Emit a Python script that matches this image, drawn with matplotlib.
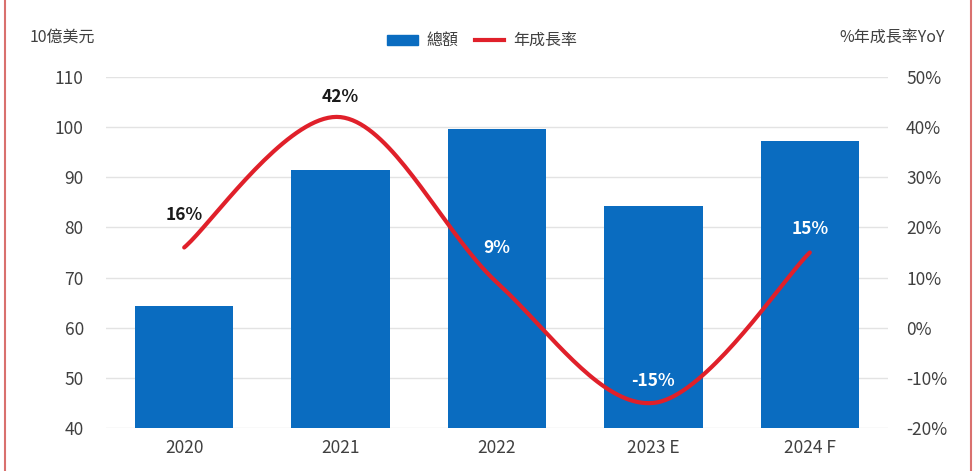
import numpy as np
import matplotlib
matplotlib.use('Agg')
from matplotlib import pyplot as plt
from matplotlib.patches import Rectangle

plt.rcParams['font.family'] = ['Noto Sans CJK TC', 'DejaVu Sans']

years = ['2020', '2021', '2022', '2023 E', '2024 F']
total = [64.3, 91.4, 99.6, 84.3, 97.2]      # 10億美元
yoy = [16, 42, 9, -15, 15]                  # %
yoy_text = ['16%', '42%', '9%', '-15%', '15%']
label_color = ['#1a1a1a', '#1a1a1a', 'white', 'white', 'white']
label_dy = [32, 20, 35, 22, 24]              # px above the point

blue = '#0a6cc0'
red = '#e0202a'
grey = '#404040'


def smooth(xs, ys, n=40):
    # catmull-rom style bezier, like a smoothed office line
    xs = np.asarray(xs, float)
    ys = np.asarray(ys, float)
    px = np.concatenate([[xs[0]], xs, [xs[-1]]])
    py = np.concatenate([[ys[0]], ys, [ys[-1]]])
    ox, oy = [], []
    t = np.linspace(0, 1, n)
    for i in range(1, len(px) - 2):
        p0 = np.array([px[i], py[i]])
        p3 = np.array([px[i + 1], py[i + 1]])
        p1 = p0 + (np.array([px[i + 1], py[i + 1]]) - np.array([px[i - 1], py[i - 1]])) / 6
        p2 = p3 - (np.array([px[i + 2], py[i + 2]]) - np.array([px[i], py[i]])) / 6
        b = ((1 - t) ** 3)[:, None] * p0 + (3 * (1 - t) ** 2 * t)[:, None] * p1 \
            + (3 * (1 - t) * t ** 2)[:, None] * p2 + (t ** 3)[:, None] * p3
        ox.extend(b[:, 0])
        oy.extend(b[:, 1])
    return np.array(ox), np.array(oy)


fig = plt.figure(figsize=(9.76, 4.71), dpi=100)
ax = fig.add_axes([106 / 976, 1 - 428 / 471, 782 / 976, 351 / 471])
x = np.arange(len(years))
ax.bar(x, total, width=0.63, color=blue, zorder=2)
ax.set_xlim(-0.5, 4.5)
ax.set_ylim(40, 110)
ax.set_yticks(range(40, 111, 10))
ax.set_xticks(x)
ax.set_xticklabels(years)
ax.grid(axis='y', color='#e3e3e3', lw=1, zorder=0)
for s in ax.spines.values():
    s.set_visible(False)
ax.tick_params(length=0, labelsize=12.5, colors=grey, pad=8)
ax.tick_params(axis='y', pad=16)

ax2 = ax.twinx()
ax2.set_ylim(-20, 50)
ax2.set_yticks(range(-20, 51, 10))
ax2.set_yticklabels([f'{v}%' for v in range(-20, 51, 10)])
for s in ax2.spines.values():
    s.set_visible(False)
ax2.tick_params(length=0, labelsize=12.5, colors=grey, pad=13)

sx, sy = smooth(x, yoy)
ax2.plot(sx, sy, color=red, lw=3, solid_capstyle='round', zorder=3)
for i, v in enumerate(yoy):
    ax2.annotate(yoy_text[i], (x[i], v), xytext=(0, label_dy[i] * 0.72),
                 textcoords='offset points', ha='center', va='center',
                 fontsize=12.5, fontweight='bold', color=label_color[i])

# titles and legend
fig.text(30 / 976, 1 - 37 / 471, '10億美元', fontsize=11.5, color=grey, va='center')
fig.text(945 / 976, 1 - 37 / 471, '%年成長率YoY', fontsize=11.5, color=grey,
         va='center', ha='right')
fig.patches.append(Rectangle((387 / 976, 1 - 45 / 471), 31 / 976, 10 / 471,
                             transform=fig.transFigure, color=blue))
fig.text(426 / 976, 1 - 40 / 471, '總額', fontsize=11.5, color=grey, va='center')
fig.lines.append(plt.Line2D([475 / 976, 504 / 976], [1 - 40 / 471] * 2,
                            transform=fig.transFigure, color=red, lw=3))
fig.text(513 / 976, 1 - 40 / 471, '年成長率', fontsize=11.5, color=grey, va='center')

# red frame at the sides
for fx in (5 / 976, 971 / 976):
    fig.lines.append(plt.Line2D([fx, fx], [0, 1], transform=fig.transFigure,
                                color='#d9706e', lw=1.5))

fig.savefig('out.png', dpi=100)
